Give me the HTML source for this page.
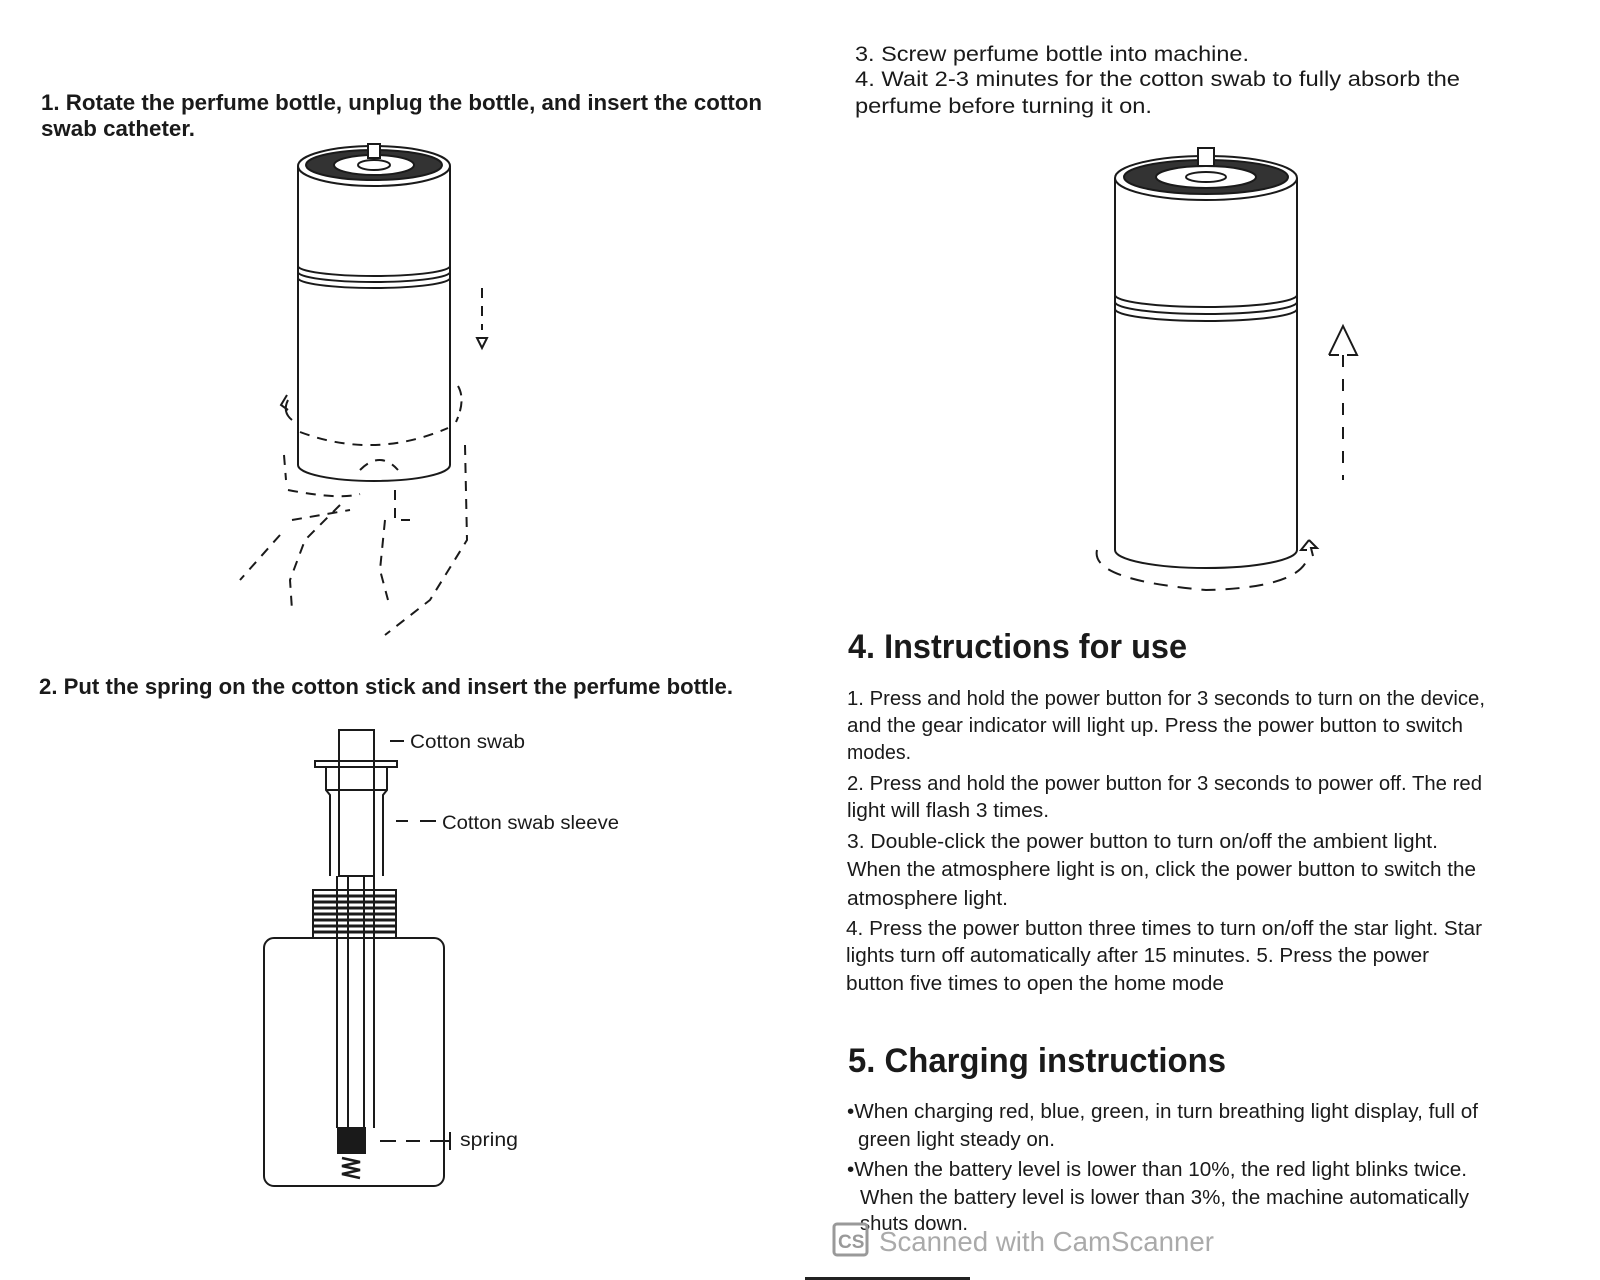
<!DOCTYPE html>
<html><head><meta charset="utf-8"><style>
html,body{margin:0;padding:0;background:#fff;}
svg{display:block;}
text{font-family:"Liberation Sans",sans-serif;fill:#1a1a1a;}
</style></head><body>
<svg width="1600" height="1280" viewBox="0 0 1600 1280" xmlns="http://www.w3.org/2000/svg">
<rect width="1600" height="1280" fill="#fff"/>
<!-- Left text -->
<text x="41" y="110" font-size="22" font-weight="bold" textLength="721" lengthAdjust="spacingAndGlyphs">1. Rotate the perfume bottle, unplug the bottle, and insert the cotton</text>
<text x="41" y="136" font-size="22" font-weight="bold" textLength="154" lengthAdjust="spacingAndGlyphs">swab catheter.</text>
<text x="39" y="694" font-size="22" font-weight="bold" textLength="694" lengthAdjust="spacingAndGlyphs">2. Put the spring on the cotton stick and insert the perfume bottle.</text>

<!-- Bottle 1 -->
<g fill="none" stroke="#1a1a1a" stroke-width="2">
<path d="M298 166 L298 465 A76 16 0 0 0 450 465 L450 166"/>
<ellipse cx="374" cy="166" rx="76" ry="20" fill="#fff"/>
<ellipse cx="374" cy="165" rx="68" ry="15" fill="#333"/>
<ellipse cx="374" cy="165" rx="40" ry="10" fill="#fff"/>
<ellipse cx="374" cy="165" rx="16" ry="5"/>
<rect x="368" y="144" width="12" height="14" fill="#fff"/>
<path d="M298 266 A76 10 0 0 0 450 266 M298 272 A76 10 0 0 0 450 272 M298 278 A76 10 0 0 0 450 278"/>
<path d="M300 432 Q374 460 448 428" stroke-dasharray="10 8"/>
<path d="M482 288 L482 330" stroke-dasharray="10 8"/>
<path d="M477 338 L487 338 L482 348 Z"/>
<path d="M287 395 L281 405 L288 410 M288 400 Q282 412 292 420"/>
<path d="M458 386 Q466 400 456 422" stroke-dasharray="10 6"/>
<path d="M284 455 L286 480 M288 490 Q340 500 360 494 M292 520 L350 510 M340 505 L305 540 L290 580 L292 610 M465 445 L467 540 L430 600 L385 635 M385 520 L380 570 L388 600 M360 470 Q380 450 398 470 M395 490 L395 520 L410 520 M280 535 L240 580" stroke-dasharray="10 8"/>
</g>

<!-- Diagram 2 -->
<g fill="none" stroke="#1a1a1a" stroke-width="2">
<rect x="339" y="730" width="35" height="146"/>
<rect x="315" y="761" width="82" height="6"/>
<path d="M326 767 L326 790 L330 795 L330 876 M387 767 L387 790 L383 795 L383 876 M326 790 L387 790"/>
<rect x="313" y="890" width="83" height="48" fill="#fff"/>
<path d="M313 896 L396 896 M313 902 L396 902 M313 908 L396 908 M313 914 L396 914 M313 920 L396 920 M313 926 L396 926 M313 932 L396 932" stroke-width="3"/>
<rect x="264" y="938" width="180" height="248" rx="10" fill="#fff"/>
<path d="M337 876 L337 1128 M348 876 L348 1128 M364 876 L364 1128 M374 876 L374 1128"/>
<rect x="338" y="1128" width="27" height="25" fill="#1a1a1a"/>
<path d="M342 1158 L360 1162 L342 1166 L360 1170 L342 1174 L360 1178" stroke-width="2.5"/>
<path d="M390 741 L404 741"/>
<path d="M396 821 L408 821 M420 821 L436 821"/>
<path d="M380 1141 L396 1141 M406 1141 L420 1141 M430 1141 L450 1141 M450 1132 L450 1150"/>
</g>
<text x="410" y="748" font-size="19" textLength="115" lengthAdjust="spacingAndGlyphs" fill="#333">Cotton swab</text>
<text x="442" y="829" font-size="19" textLength="177" lengthAdjust="spacingAndGlyphs" fill="#333">Cotton swab sleeve</text>
<text x="460" y="1146" font-size="19" textLength="58" lengthAdjust="spacingAndGlyphs" fill="#333">spring</text>

<!-- Right top text -->
<text x="855" y="61" font-size="21" textLength="394" lengthAdjust="spacingAndGlyphs">3. Screw perfume bottle into machine.</text>
<text x="855" y="86" font-size="21" textLength="605" lengthAdjust="spacingAndGlyphs">4. Wait 2-3 minutes for the cotton swab to fully absorb the</text>
<text x="855" y="113" font-size="21" textLength="297" lengthAdjust="spacingAndGlyphs">perfume before turning it on.</text>

<!-- Bottle 2 -->
<g fill="none" stroke="#1a1a1a" stroke-width="2" transform="translate(-5,0)">
<path d="M1120 178 L1120 550 A91 18 0 0 0 1302 550 L1302 178"/>
<ellipse cx="1211" cy="178" rx="91" ry="22" fill="#fff"/>
<ellipse cx="1211" cy="177" rx="82" ry="17" fill="#333"/>
<ellipse cx="1211" cy="177" rx="50" ry="11" fill="#fff"/>
<ellipse cx="1211" cy="177" rx="20" ry="5"/>
<rect x="1203" y="148" width="16" height="18" fill="#fff"/>
<path d="M1120 295 A91 12 0 0 0 1302 295 M1120 302 A91 12 0 0 0 1302 302 M1120 309 A91 12 0 0 0 1302 309"/>
<path d="M1348 355 L1348 480" stroke-dasharray="12 12"/>
<path d="M1334 355 L1348 326 L1362 355 L1352 355 M1344 355 L1334 355"/>
<path d="M1102 550 Q1095 580 1211 590 Q1300 588 1312 560" stroke-dasharray="14 10"/>
<path d="M1314 540 L1322 548 L1316 548 L1318 556 M1314 540 L1306 550 L1312 550"/>
</g>

<!-- Section 4 -->
<text x="848" y="658" font-size="34" font-weight="bold" textLength="339" lengthAdjust="spacingAndGlyphs">4. Instructions for use</text>
<g font-size="20">
<text x="847" y="705" textLength="638" lengthAdjust="spacingAndGlyphs">1. Press and hold the power button for 3 seconds to turn on the device,</text>
<text x="847" y="732" textLength="616" lengthAdjust="spacingAndGlyphs">and the gear indicator will light up. Press the power button to switch</text>
<text x="847" y="759" textLength="64" lengthAdjust="spacingAndGlyphs">modes.</text>
<text x="847" y="790" textLength="635" lengthAdjust="spacingAndGlyphs">2. Press and hold the power button for 3 seconds to power off. The red</text>
<text x="847" y="817" textLength="202" lengthAdjust="spacingAndGlyphs">light will flash 3 times.</text>
<text x="847" y="848" textLength="591" lengthAdjust="spacingAndGlyphs">3. Double-click the power button to turn on/off the ambient light.</text>
<text x="847" y="876" textLength="629" lengthAdjust="spacingAndGlyphs">When the atmosphere light is on, click the power button to switch the</text>
<text x="847" y="905" textLength="161" lengthAdjust="spacingAndGlyphs">atmosphere light.</text>
<text x="846" y="935" textLength="636" lengthAdjust="spacingAndGlyphs">4. Press the power button three times to turn on/off the star light. Star</text>
<text x="846" y="962" textLength="583" lengthAdjust="spacingAndGlyphs">lights turn off automatically after 15 minutes. 5. Press the power</text>
<text x="846" y="990" textLength="378" lengthAdjust="spacingAndGlyphs">button five times to open the home mode</text>
</g>

<!-- Section 5 -->
<text x="848" y="1072" font-size="34" font-weight="bold" textLength="378" lengthAdjust="spacingAndGlyphs">5. Charging instructions</text>
<g font-size="20">
<text x="847" y="1118" textLength="631" lengthAdjust="spacingAndGlyphs">•When charging red, blue, green, in turn breathing light display, full of</text>
<text x="858" y="1146" textLength="197" lengthAdjust="spacingAndGlyphs">green light steady on.</text>
<text x="847" y="1176" textLength="620" lengthAdjust="spacingAndGlyphs">•When the battery level is lower than 10%, the red light blinks twice.</text>
<text x="860" y="1204" textLength="609" lengthAdjust="spacingAndGlyphs">When the battery level is lower than 3%, the machine automatically</text>
<text x="860" y="1230" textLength="108" lengthAdjust="spacingAndGlyphs">shuts down.</text>
</g>

<!-- Watermark -->
<rect x="834" y="1224" width="33" height="31" fill="none" stroke="#999" stroke-width="3" rx="3"/>
<text x="838" y="1248" font-size="19" font-weight="bold" style="fill:#999">CS</text>
<text x="879" y="1251" font-size="28" textLength="335" lengthAdjust="spacingAndGlyphs" style="fill:#aaa">Scanned with CamScanner</text>
<rect x="805" y="1277" width="165" height="3" fill="#222"/>
</svg>
</body></html>
